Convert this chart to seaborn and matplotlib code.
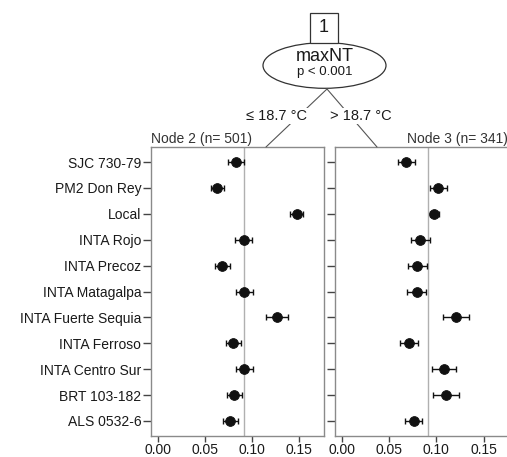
import numpy as np
import pandas as pd
import matplotlib
matplotlib.use("Agg")
import matplotlib.pyplot as plt
import seaborn as sns
from matplotlib.patches import Ellipse, Rectangle
from matplotlib.lines import Line2D

# ---- data ----
varieties = ["SJC 730-79", "PM2 Don Rey", "Local", "INTA Rojo", "INTA Precoz",
             "INTA Matagalpa", "INTA Fuerte Sequia", "INTA Ferroso",
             "INTA Centro Sur", "BRT 103-182", "ALS 0532-6"]

node2_mean = [0.083, 0.063, 0.148, 0.091, 0.068, 0.092, 0.127, 0.080, 0.092, 0.081, 0.077]
node2_err = [0.009, 0.007, 0.007, 0.009, 0.008, 0.009, 0.012, 0.008, 0.009, 0.008, 0.008]

node3_mean = [0.068, 0.102, 0.098, 0.083, 0.080, 0.079, 0.121, 0.071, 0.108, 0.110, 0.076]
node3_err = [0.009, 0.009, 0.005, 0.010, 0.010, 0.010, 0.014, 0.010, 0.013, 0.014, 0.009]

ref_value = 0.0915
x_ticks = [0.00, 0.05, 0.10, 0.15]

split_var = "maxNT"
split_p = "p < 0.001"
left_edge = "≤ 18.7 °C"
right_edge = "> 18.7 °C"
node2_title = "Node 2 (n= 501)"
node3_title = "Node 3 (n= 341)"

W, H = 507, 457


def fx(px):
    return px / W


def fy(py):
    return 1 - py / H


def draw_panel(ax, means, errs, show_labels):
    df = pd.DataFrame({"variety": varieties, "mean": means, "err": errs})
    ax.axvline(ref_value, color="#b0b0b0", lw=1, zorder=1)
    ax.errorbar(df["mean"], np.arange(len(df)), xerr=df["err"], fmt="none",
                ecolor="#111111", elinewidth=1, capsize=2.5, capthick=1, zorder=2)
    sns.scatterplot(data=df, x="mean", y="variety", ax=ax, color="#111111",
                    s=50, edgecolor="#111111", zorder=3, legend=False)
    ax.set_xlim(-0.008, 0.1765)
    ax.set_ylim(len(df) - 0.42, -0.58)
    ax.set_xticks(x_ticks)
    ax.set_xticklabels([f"{t:.2f}" for t in x_ticks])
    ax.set_yticks(np.arange(len(df)))
    if show_labels:
        ax.set_yticklabels(varieties)
    else:
        ax.set_yticklabels([])
    ax.set_xlabel("")
    ax.set_ylabel("")
    for s in ax.spines.values():
        s.set_color("#8a8a8a")
        s.set_linewidth(1)
    ax.tick_params(axis="x", bottom=True, direction="out", length=4.5, width=1,
                   color="#444444", labelsize=10, pad=0.5, labelcolor="#1a1a1a")
    ax.tick_params(axis="y", left=True, direction="out", length=6, width=1,
                   color="#444444", labelsize=10, pad=1, labelcolor="#1a1a1a")


def main():
    sns.set_style("white")
    plt.rcParams["font.family"] = ["Liberation Sans", "DejaVu Sans"]

    fig = plt.figure(figsize=(W / 100, H / 100), dpi=100)

    ax_l = fig.add_axes([fx(151), fy(436), fx(172.5), 289 / H])
    ax_r = fig.add_axes([fx(334.5), fy(436), fx(174), 289 / H])
    draw_panel(ax_l, node2_mean, node2_err, True)
    draw_panel(ax_r, node3_mean, node3_err, False)

    tf = fig.transFigure
    # tree edges
    fig.add_artist(Line2D([fx(327), fx(266)], [fy(89), fy(147)], transform=tf,
                          color="#555555", lw=0.8))
    fig.add_artist(Line2D([fx(327), fx(377)], [fy(89), fy(147)], transform=tf,
                          color="#555555", lw=0.8))
    # inner node
    fig.add_artist(Ellipse((fx(324.5), fy(65.5)), width=fx(123), height=45.6 / H,
                           transform=tf, facecolor="white", edgecolor="#333333", lw=0.9))
    fig.add_artist(Rectangle((fx(309.5), fy(42.5)), fx(28), 29 / H, transform=tf,
                             facecolor="white", edgecolor="#333333", lw=0.9))
    fig.text(fx(323.5), fy(28), "1", ha="center", va="center", fontsize=13, color="#1a1a1a")
    fig.text(fx(324.5), fy(56.5), split_var, ha="center", va="center", fontsize=13, color="#1a1a1a")
    fig.text(fx(324.5), fy(72), split_p, ha="center", va="center", fontsize=9.5, color="#1a1a1a")

    box = dict(facecolor="white", edgecolor="none", pad=1)
    fig.text(fx(276), fy(116), left_edge, ha="center", va="center", fontsize=10.5,
             color="#1a1a1a", bbox=box)
    fig.text(fx(360.5), fy(116), right_edge, ha="center", va="center", fontsize=10.5,
             color="#1a1a1a", bbox=box)

    fig.text(fx(151), fy(139), node2_title, ha="left", va="center", fontsize=10, color="#333333")
    fig.text(fx(508), fy(139), node3_title, ha="right", va="center", fontsize=10, color="#333333")

    fig.savefig("out.png", dpi=100)


if __name__ == "__main__":
    main()
